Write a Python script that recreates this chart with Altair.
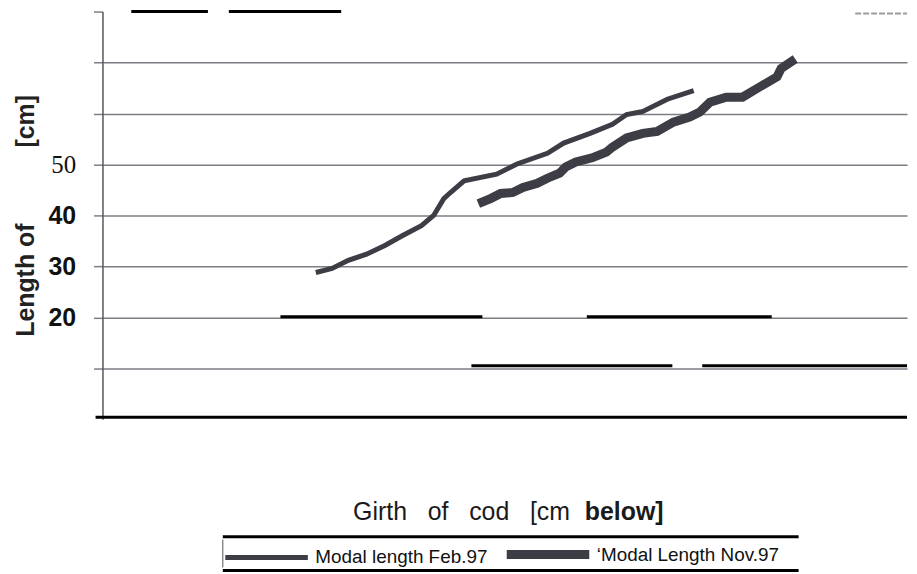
import altair as alt
import pandas as pd

# ---- data -----------------------------------------------------------------
feb_girth = [10.5, 11.3, 12.1, 13.0, 13.9, 14.8, 15.7, 16.3, 16.8, 17.1, 17.8,
             19.4, 20.4, 21.9, 22.7, 24.0, 25.1, 25.8, 26.6, 27.8, 29.1]
feb_length = [28.8, 29.6, 31.2, 32.4, 34.1, 36.1, 38.0, 40.0, 43.3, 44.4, 46.8,
              48.1, 50.1, 52.2, 54.2, 56.1, 57.9, 59.8, 60.4, 62.8, 64.5]

nov_girth = [18.5, 19.1, 19.6, 20.2, 20.7, 21.4, 21.9, 22.5, 22.8, 23.3, 24.1,
             24.8, 25.1, 25.8, 26.6, 27.3, 28.1, 28.9, 29.4, 29.9, 30.7, 31.5,
             32.3, 33.2, 33.4, 34.1]
nov_length = [42.3, 43.3, 44.3, 44.5, 45.5, 46.3, 47.3, 48.3, 49.5, 50.5, 51.3,
              52.4, 53.4, 55.2, 56.1, 56.5, 58.3, 59.3, 60.3, 62.2, 63.2, 63.2,
              65.1, 67.2, 68.8, 70.7]

series_names = ["Modal length Feb.97", "\u2018Modal Length Nov.97"]
y_ticks = [10, 20, 30, 40, 50, 60, 70, 80]

# black scan strokes visible on the page (in data units)
mark_length = [80, 80, 20.1, 20.1, 10.5, 10.5, 0.4]
mark_girth = [1.42, 6.22, 8.76, 23.84, 18.16, 29.52, -0.34]
mark_girth2 = [5.19, 11.75, 18.70, 32.94, 28.05, 39.6, 39.6]
faint_length = [79.6]
faint_girth = [37.05]
faint_girth2 = [39.6]

# ---- tables -----------------------------------------------------------------
lines_df = pd.DataFrame({
    "girth": feb_girth + nov_girth,
    "length": feb_length + nov_length,
    "series": [series_names[0]] * len(feb_girth) + [series_names[1]] * len(nov_girth),
})
marks_df = pd.DataFrame({"girth": mark_girth, "girth2": mark_girth2, "length": mark_length})
faint_df = pd.DataFrame({"girth": faint_girth, "girth2": faint_girth2, "length": faint_length})
one = pd.DataFrame({"k": [0]})

W, H = 809, 410
NB = "\u00a0"

xscale = alt.Scale(domain=[0, 39.6], nice=False, zero=False)
yscale = alt.Scale(domain=[0, 80], nice=False, zero=False)

yaxis = alt.Axis(
    values=y_ticks,
    labelExpr="datum.value >= 20 && datum.value <= 50 ? datum.label : ''",
    grid=True,
    gridColor="#7d7d84",
    gridWidth=1.5,
    gridOpacity={"condition": {"test": "datum.value == 80", "value": 0}, "value": 1},
    tickColor="#7d7d84",
    tickSize=9,
    tickWidth=1.5,
    domainColor="#55555c",
    domainWidth=1.5,
    labelFont={"condition": {"test": "datum.value == 50", "value": "Liberation Serif"},
               "value": "Liberation Sans"},
    labelFontWeight={"condition": {"test": "datum.value == 50", "value": "normal"},
                     "value": "bold"},
    labelFontSize=25,
    labelColor="#111111",
    labelPadding=18,
    title="Length of" + NB * 11 + "[cm]",
    titleFont="Liberation Sans",
    titleFontWeight="bold",
    titleFontSize=25,
    titleColor="#222222",
    titlePadding=10,
)

legend = alt.Legend(
    title=None,
    orient="none",
    legendX=119,
    legendY=500,
    direction="horizontal",
    columns=2,
    symbolType="stroke",
    symbolSize=83 * 83,
    labelFont="Liberation Sans",
    labelFontSize=19,
    labelColor="#111111",
    labelOffset=3,
    columnPadding=0,
    labelLimit=400,
    padding=0,
)

lines = alt.Chart(lines_df).mark_line(strokeCap="butt", strokeJoin="miter").encode(
    x=alt.X("girth:Q", scale=xscale, axis=None),
    y=alt.Y("length:Q", scale=yscale, axis=yaxis),
    color=alt.Color("series:N", scale=alt.Scale(domain=series_names,
                                                range=["#3d3d46", "#3d3d46"]),
                    legend=legend),
    strokeWidth=alt.StrokeWidth("series:N", scale=alt.Scale(domain=series_names,
                                                            range=[5, 9]),
                                legend=legend),
)

scan_marks = alt.Chart(marks_df).mark_rule(color="black", strokeWidth=3).encode(
    x=alt.X("girth:Q", scale=xscale, axis=None),
    x2="girth2:Q",
    y=alt.Y("length:Q", scale=yscale, axis=yaxis),
)

faint = alt.Chart(faint_df).mark_rule(color="#9a9aa0", strokeWidth=2, strokeDash=[6, 2]).encode(
    x=alt.X("girth:Q", scale=xscale, axis=None),
    x2="girth2:Q",
    y=alt.Y("length:Q", scale=yscale, axis=yaxis),
)

title1 = alt.Chart(one).mark_text(
    text="Girth" + NB * 3 + "of" + NB * 3 + "cod" + NB * 3 + "[cm",
    align="left", baseline="alphabetic", font="Liberation Sans",
    fontSize=25, color="#1a1a1a",
).encode(x=alt.value(252), y=alt.value(511))

title2 = alt.Chart(one).mark_text(
    text="below]", align="left", baseline="alphabetic", font="Liberation Sans",
    fontWeight="bold", fontSize=25, color="#1a1a1a",
).encode(x=alt.value(485), y=alt.value(511))

frame_top = alt.Chart(one).mark_rule(color="black", strokeWidth=3).encode(
    x=alt.value(121), x2=alt.value(700), y=alt.value(528))
frame_bottom = alt.Chart(one).mark_rule(color="black", strokeWidth=3).encode(
    x=alt.value(121), x2=alt.value(700), y=alt.value(562))
frame_left = alt.Chart(one).mark_rule(color="#555555", strokeWidth=1).encode(
    x=alt.value(121), y=alt.value(531), y2=alt.value(559))

chart = alt.layer(
    scan_marks, faint, lines, title1, title2, frame_top, frame_bottom, frame_left
).properties(
    width=W, height=H, padding={"left": 5, "top": 0, "right": 0, "bottom": 0},
    background="white",
).configure_view(stroke=None)

chart.save("out.html", embed_options={"renderer": "svg", "actions": False})
